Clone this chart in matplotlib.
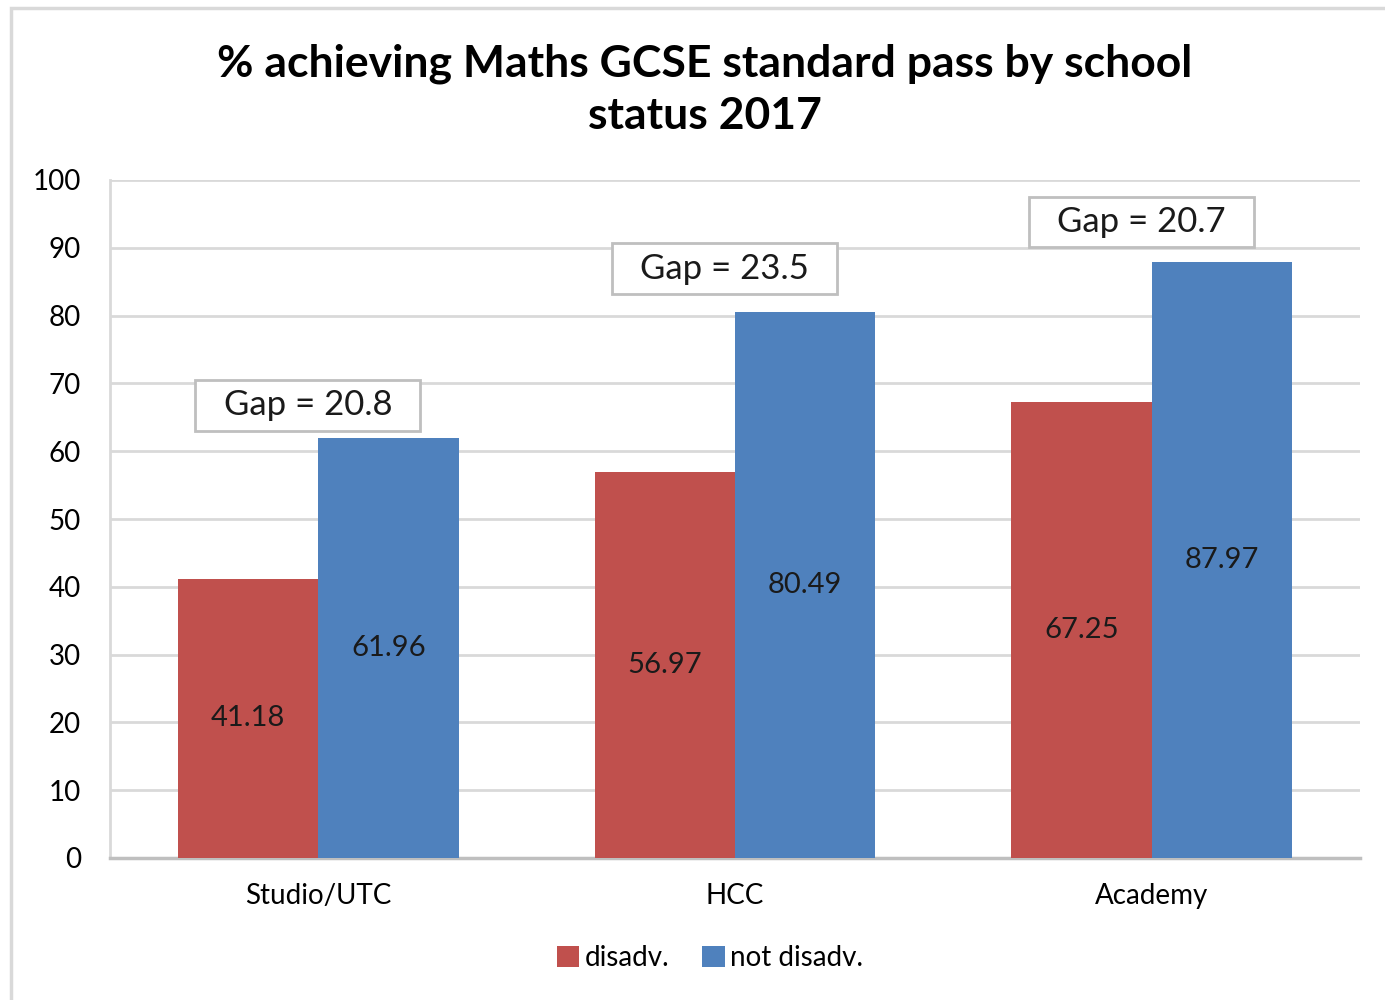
import numpy as np
import matplotlib.pyplot as plt
from matplotlib.patches import Rectangle

# DATA
categories = ["Studio/UTC", "HCC", "Academy"]
disadv = [41.18, 56.97, 67.25]
not_disadv = [61.96, 80.49, 87.97]
gap_labels = ["Gap = 20.8", "Gap = 23.5", "Gap = 20.7"]
gap_y = [66.8, 86.9, 93.8]
yticks = [0, 10, 20, 30, 40, 50, 60, 70, 80, 90, 100]

RED = "#C0504D"
BLUE = "#4F81BD"
plt.rcParams['font.family'] = ['Lato', 'DejaVu Sans']

fig = plt.figure(figsize=(13.85, 10), dpi=100)
ax = fig.add_axes([110/1385, 0.142, 1250/1385, 0.678])

# outer chart border
fig.patches.append(Rectangle((11/1385, -0.05), 1.2, 1 - 8/1000 + 0.05,
                             transform=fig.transFigure, fill=False,
                             edgecolor="#d9d9d9", linewidth=2.5))

x = np.arange(len(categories))
w = 0.337
b1 = ax.bar(x - w/2, disadv, w, color=RED, label="disadv.", zorder=3)
b2 = ax.bar(x + w/2, not_disadv, w, color=BLUE, label="not disadv.", zorder=3)

for bars, vals in [(b1, disadv), (b2, not_disadv)]:
    for r, v in zip(bars, vals):
        ax.text(r.get_x() + r.get_width()/2, v/2, f"{v:.2f}", ha="center",
                va="center", fontsize=21, color="#1a1a1a", zorder=4)

# gap annotation boxes
bw, bh = 0.54, 7.5
for xi, lab, gy in zip(x, gap_labels, gap_y):
    cx = xi - 0.025
    ax.add_patch(Rectangle((cx - bw/2, gy - bh/2), bw, bh, facecolor="white",
                           edgecolor="#bfbfbf", linewidth=2, zorder=5))
    ax.text(cx, gy, lab, ha="center", va="center", fontsize=25,
            color="#1a1a1a", zorder=6)

ax.set_xlim(-0.5, 2.5)
ax.set_ylim(0, 100)
ax.set_yticks(yticks)
ax.set_xticks(x)
ax.set_xticklabels(categories, fontsize=20)
ax.tick_params(axis="y", labelsize=20, length=0, pad=21)
ax.tick_params(axis="x", length=0, pad=18)
ax.yaxis.grid(True, color="#d9d9d9", linewidth=2, zorder=0)
ax.set_axisbelow(True)
for s in ["top", "right"]:
    ax.spines[s].set_visible(False)
ax.spines["left"].set_color("#d9d9d9")
ax.spines["left"].set_linewidth(2)
ax.spines["bottom"].set_color("#bfbfbf")
ax.spines["bottom"].set_linewidth(2.5)

fig.text(705/1385, 1 - 90/1000,
         "% achieving Maths GCSE standard pass by school\nstatus 2017",
         ha="center", va="center", fontsize=32, fontweight="bold",
         linespacing=1.35)

fig.legend(loc="center", bbox_to_anchor=(710/1385, 1 - 958/1000), ncol=2,
           frameon=False, fontsize=20, handlelength=0.8, handleheight=0.8,
           handletextpad=0.2, columnspacing=1.2)

fig.savefig("out.png", dpi=100)
